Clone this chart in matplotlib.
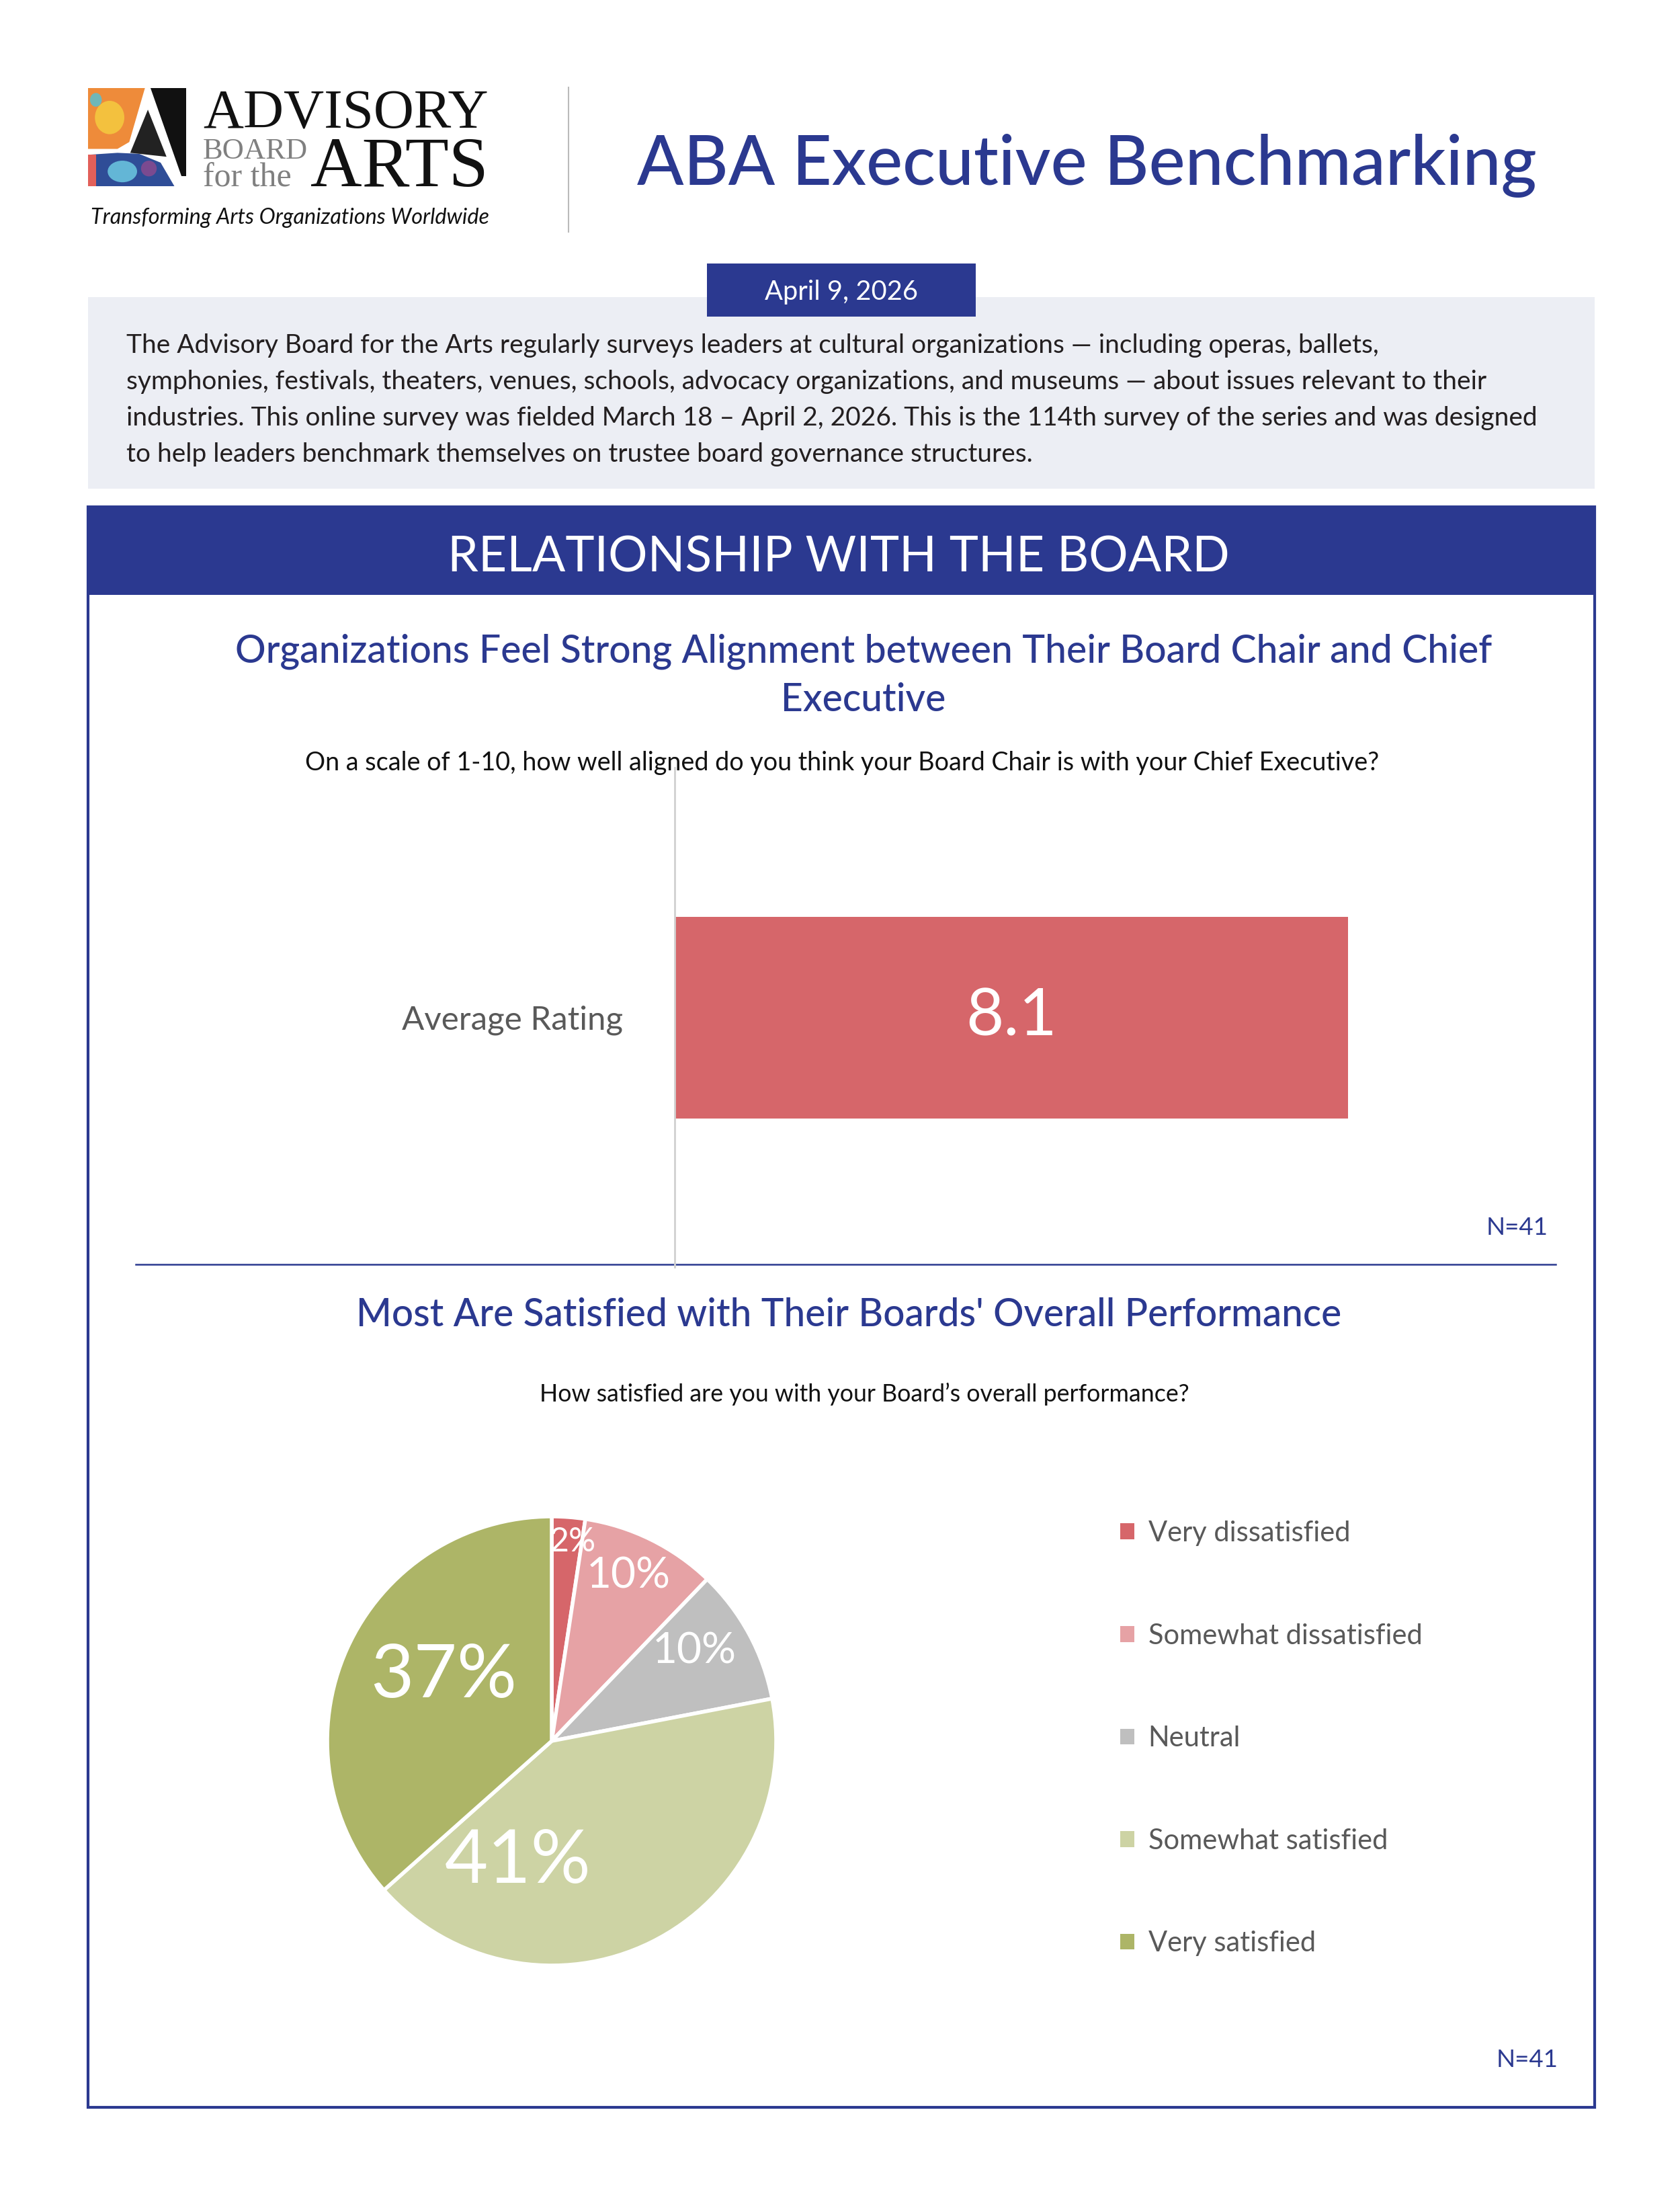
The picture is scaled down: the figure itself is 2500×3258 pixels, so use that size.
import matplotlib
matplotlib.use("Agg")
import matplotlib.pyplot as plt
from matplotlib.patches import Rectangle, Polygon, Patch, Ellipse
import numpy as np

plt.rcParams['font.family'] = ['Lato', 'DejaVu Sans']

W, H = 2500, 3258

# ---- data ----
bar_labels = ["Average Rating"]
bar_values = [8.1]
bar_n = 41

pie_categories = ["Very dissatisfied", "Somewhat dissatisfied", "Neutral",
                  "Somewhat satisfied", "Very satisfied"]
pie_shares = [2.4, 9.8, 9.8, 41.5, 36.6]
pie_labels = ["2%", "10%", "10%", "41%", "37%"]
pie_n = 41

desc_lines = [
    "The Advisory Board for the Arts regularly surveys leaders at cultural organizations \u2014 including operas, ballets,",
    "symphonies, festivals, theaters, venues, schools, advocacy organizations, and museums \u2014 about issues relevant to their",
    "industries. This online survey was fielded March 18 \u2013 April 2, 2026. This is the 114th survey of the series and was designed",
    "to help leaders benchmark themselves on trustee board governance structures.",
]

# ---- styles ----
navy = "#2B3990"
red = "#D6666A"
pie_colors = ["#D6666A", "#E6A2A5", "#BFBFBF", "#CDD3A4", "#ADB567"]
grey_text = "#595959"

fig = plt.figure(figsize=(W / 100, H / 100), dpi=100)
bg = fig.add_axes([0, 0, 1, 1])
bg.set_xlim(0, W)
bg.set_ylim(H, 0)
bg.axis("off")
renderer = fig.canvas.get_renderer()


def size_for(s, width, **kw):
    t = bg.text(0, 0, s, fontsize=100, **kw)
    w = t.get_window_extent(renderer).width
    t.remove()
    return 100 * width / w


def px_axes(x0, y0, x1, y1):
    return fig.add_axes([x0 / W, 1 - y1 / H, (x1 - x0) / W, (y1 - y0) / H])


# ---- logo ----
x0, y0, s = 131, 131, 146
P = lambda u, v: (x0 + u * s, y0 + v * s)
bg.add_patch(Polygon([P(0, 0), P(0.58, 0), P(0.42, 0.55), P(0.3, 0.62), P(0, 0.62)],
                     color="#EE8B3A", lw=0))
bg.add_patch(Ellipse(P(0.22, 0.3), 0.3 * s, 0.34 * s, color="#F3C13E", lw=0))
bg.add_patch(Ellipse(P(0.08, 0.12), 0.12 * s, 0.14 * s, color="#6FB7B8", lw=0))
bg.add_patch(Polygon([P(0, 0.68), P(0.3, 0.66), P(0.52, 0.67), P(0.74, 0.76), P(0.88, 1), P(0, 1)],
                     color="#2F4D97", lw=0))
bg.add_patch(Ellipse(P(0.35, 0.85), 0.3 * s, 0.22 * s, color="#63B6D6", lw=0))
bg.add_patch(Ellipse(P(0.62, 0.82), 0.16 * s, 0.16 * s, color="#7B4A90", lw=0))
bg.add_patch(Polygon([P(0, 0.68), P(0.08, 0.68), P(0.08, 1), P(0, 1)], color="#E2605A", lw=0))
bg.add_patch(Polygon([P(0.64, 0), P(1, 0), P(1, 0.9), P(0.95, 0.9)], color="#111111", lw=0))
bg.add_patch(Polygon([P(0.61, 0.22), P(0.43, 0.66), P(0.8, 0.7)], color="#222222", lw=0))

serif = ['Liberation Serif', 'DejaVu Serif']
bg.text(302, 190, "ADVISORY", family=serif, color="#111111",
        fontsize=size_for("ADVISORY", 425, family=serif))
bg.text(302, 236, "BOARD", family=serif, color="#808080",
        fontsize=size_for("BOARD", 156, family=serif))
bg.text(302, 277, "for the", family=serif, color="#808080",
        fontsize=size_for("for the", 132, family=serif))
bg.text(462, 277, "ARTS", family=serif, color="#111111",
        fontsize=size_for("ARTS", 265, family=serif))
tag = "Transforming Arts Organizations Worldwide"
bg.text(135, 333, tag, style="italic", color="#111111",
        fontsize=size_for(tag, 594, style="italic"))
bg.plot([846, 846], [130, 345], color="#BBBBBB", lw=1.5)

# ---- page title ----
title = "ABA Executive Benchmarking"
bg.text(948, 275, title, color=navy, fontweight="medium",
        fontsize=size_for(title, 1340, fontweight="medium"))

# ---- intro box ----
bg.add_patch(Rectangle((131, 442), 2242, 285, color="#ECEEF4", lw=0))
bg.add_patch(Rectangle((1052, 392), 400, 79, color=navy, lw=0))
bg.text(1252, 446, "April 9, 2026", color="white", ha="center",
        fontsize=size_for("April 9, 2026", 228))
fs_desc = size_for(desc_lines[2], 2099)
for i, line in enumerate(desc_lines):
    bg.text(188, 525 + 54 * i, line, color="#231F20", fontsize=fs_desc)

# ---- section frame ----
bg.add_patch(Rectangle((131, 754), 2242, 131, color=navy, lw=0))
bg.add_patch(Rectangle((131, 754), 2242, 2381, fill=False, edgecolor=navy, lw=3))
band = "RELATIONSHIP WITH THE BOARD"
bg.text(1248, 850, band, color="white", ha="center",
        fontsize=size_for(band, 1162))

# ---- chart 1 ----
t1 = "Organizations Feel Strong Alignment between Their Board Chair and Chief"
fs_t1 = size_for(t1, 1871, fontweight="medium")
bg.text(1285, 985, t1, color=navy, ha="center", fontsize=fs_t1, fontweight="medium")
bg.text(1285, 1058, "Executive", color=navy, ha="center", fontsize=fs_t1, fontweight="medium")
q1 = "On a scale of 1-10, how well aligned do you think your Board Chair is with your Chief Executive?"
bg.text(1253, 1146, q1, color="#111111", ha="center", fontsize=size_for(q1, 1602))

ax1 = px_axes(1004, 1142, 2241, 1885)
ax1.patch.set_alpha(0)
ypos = np.arange(len(bar_values))
bars = ax1.barh(ypos, bar_values, height=300 / 743, color=red)
ax1.set_xlim(0, 10)
ax1.set_ylim(-0.5, 0.5)
ax1.set_xticks([])
ax1.set_yticks(ypos, bar_labels)
ax1.tick_params(axis="y", length=0, pad=55, labelcolor=grey_text,
                labelsize=size_for(bar_labels[0], 329))
for sp in ["top", "right", "bottom"]:
    ax1.spines[sp].set_visible(False)
ax1.spines["left"].set_color("#D0D0D0")
ax1.spines["left"].set_linewidth(2)
for b, v in zip(bars, bar_values):
    ax1.text(b.get_width() / 2, b.get_y() + b.get_height() / 2, f"{v:.1f}",
             ha="center", va="center", color="white", fontsize=70)

n1 = f"N={bar_n}"
bg.text(2304, 1837, n1, color=navy, ha="right", fontsize=size_for(n1, 92))
bg.plot([202, 2315], [1881, 1881], color=navy, lw=1.8)

# ---- chart 2 ----
t2 = "Most Are Satisfied with Their Boards' Overall Performance"
bg.text(1263, 1973, t2, color=navy, ha="center", fontweight="medium",
        fontsize=size_for(t2, 1465, fontweight="medium"))
q2 = "How satisfied are you with your Board\u2019s overall performance?"
bg.text(1286, 2085, q2, color="#111111", ha="center", fontsize=size_for(q2, 969))

cx, cy, r = 821, 2590, 334
ax2 = px_axes(cx - r, cy - r, cx + r, cy + r)
wedges, _ = ax2.pie(pie_shares, colors=pie_colors, startangle=90, counterclock=False,
                    wedgeprops=dict(edgecolor="white", linewidth=4))
ax2.set_xlim(-1, 1)
ax2.set_ylim(-1, 1)

label_shift = [-1.7, 1.3, 3.6, -42.0, -6.7]
label_r = [0.89, 0.81, 0.75, 0.56, 0.56]
label_fs = [36, 46, 46, 80, 80]
for w, lab, sh, lr, fs in zip(wedges, pie_labels, label_shift, label_r, label_fs):
    ang = np.deg2rad((w.theta1 + w.theta2) / 2 + sh)
    ax2.text(lr * np.cos(ang), lr * np.sin(ang), lab, ha="center", va="center",
             color="white", fontsize=fs, clip_on=False)

handles = [Patch(facecolor=c, edgecolor="none") for c in pie_colors]
fig.legend(handles, pie_categories, loc="upper left",
           bbox_to_anchor=(1667 / W, 1 - 2262 / H), bbox_transform=fig.transFigure,
           frameon=False, fontsize=30, labelcolor=grey_text,
           handlelength=0.5, handleheight=0.5, handletextpad=0.5,
           labelspacing=2.75, borderpad=0, borderaxespad=0)

n2 = f"N={pie_n}"
bg.text(2319, 3075, n2, color=navy, ha="right", fontsize=size_for(n2, 92))

fig.savefig("out.png", dpi=100)
